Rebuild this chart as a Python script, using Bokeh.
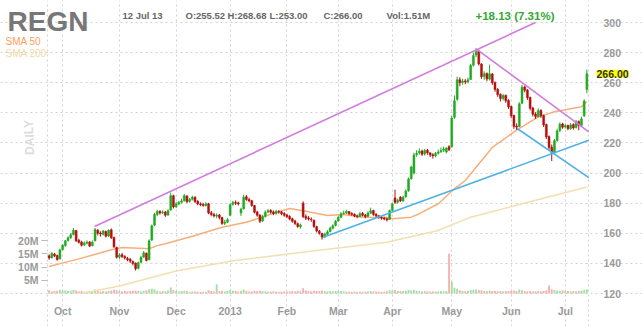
import pandas as pd
from bokeh.plotting import figure
from bokeh.models import Range1d, LinearAxis, FixedTicker, Label, ColumnDataSource, Grid
from bokeh.embed import file_html
from bokeh.resources import INLINE

# ---------------- data ----------------
holidays = ["2012-10-29", "2012-10-30", "2012-11-22", "2012-12-25", "2013-01-01",
            "2013-01-21", "2013-02-18", "2013-03-29", "2013-05-27", "2013-07-04"]
month_labels = ["Oct", "Nov", "Dec", "2013", "Feb", "Mar", "Apr", "May", "Jun", "Jul"]
price_ticks = [120, 140, 160, 180, 200, 220, 240, 260, 280, 300]
vol_ticks = [5000000, 10000000, 15000000, 20000000]
vol_tick_labels = ["5M", "10M", "15M", "20M"]

opens = [145.0, 143.8, 146.2, 145.2, 143.0, 149.2, 151.8, 155.2, 157.0, 159.2,
         161.8, 155.3, 154.2, 152.3, 153.4, 154.2, 151.8, 155.0, 162.0, 160.2,
         159.3, 161.2, 158.2, 162.3, 157.2, 150.5, 144.2, 145.8, 144.6, 143.2,
         142.8, 141.2, 140.2, 136.8, 140.8, 144.2, 146.8, 142.5, 155.5, 165.4,
         172.4, 174.6, 173.6, 174.2, 172.2, 175.4, 185.0, 177.6, 179.4, 180.6,
         181.6, 184.8, 181.2, 182.6, 184.0, 181.2, 179.4, 179.2, 178.4, 179.6,
         173.6, 172.4, 171.4, 172.2, 170.4, 166.6, 167.4, 172.0, 179.2, 180.4,
         180.2, 173.5, 176.2, 184.2, 182.4, 181.6, 178.4, 174.2, 172.2, 168.2,
         171.2, 174.2, 175.2, 174.2, 173.2, 174.4, 174.2, 173.2, 172.2, 171.2,
         169.6, 168.2, 166.4, 164.4, 180.0, 171.2, 170.2, 169.4, 168.6, 164.4,
         161.4, 159.8, 157.6, 159.4, 161.2, 163.4, 165.2, 168.2, 170.6, 173.2,
         173.6, 174.4, 173.2, 172.6, 171.6, 171.2, 173.2, 172.2, 171.2, 173.4,
         175.2, 172.6, 171.6, 170.6, 170.2, 169.6, 169.2, 175.2, 183.5, 180.6,
         184.0, 181.6, 184.2, 188.2, 196.2, 200.0, 212.2, 213.4, 214.6, 212.6,
         215.2, 213.4, 212.2, 211.4, 213.2, 214.2, 215.2, 214.0, 217.5, 217.5,
         237.0, 249.0, 262.0, 260.2, 261.2, 260.6, 262.2, 271.6, 278.4, 281.0,
         272.4, 264.2, 266.2, 262.4, 265.8, 260.2, 255.6, 252.2, 249.6, 251.6,
         248.2, 244.2, 238.2, 231.2, 231.0, 246.4, 257.2, 255.2, 250.2, 243.2,
         239.2, 237.6, 241.6, 238.2, 232.2, 224.2, 217.2, 213.6, 221.6, 228.2,
         232.6, 230.6, 231.6, 229.6, 232.2, 230.2, 234.2, 231.6, 238.0, 255.52]
highs = [146.0, 147.5, 147.0, 145.8, 149.8, 152.8, 155.6, 158.0, 160.2, 163.5,
         162.3, 156.4, 155.0, 154.6, 155.3, 154.8, 155.2, 163.5, 162.8, 161.3,
         162.2, 161.8, 162.6, 163.2, 157.8, 151.2, 146.8, 147.0, 145.5, 144.3,
         143.6, 142.0, 140.6, 141.2, 145.0, 148.2, 147.2, 156.0, 165.8, 173.6,
         175.6, 175.3, 175.2, 174.8, 175.9, 187.0, 185.6, 180.8, 181.6, 183.0,
         186.2, 185.2, 183.4, 185.0, 184.6, 182.0, 180.5, 180.2, 180.6, 180.2,
         174.8, 173.6, 173.2, 172.8, 171.0, 169.0, 170.2, 180.0, 181.6, 181.8,
         181.0, 177.0, 185.6, 185.4, 183.6, 182.2, 178.8, 175.0, 172.6, 172.2,
         175.2, 176.2, 176.0, 175.2, 175.6, 175.4, 174.8, 174.0, 173.0, 172.0,
         170.4, 169.0, 167.2, 166.4, 181.2, 172.6, 171.4, 170.6, 169.2, 165.0,
         162.2, 160.4, 160.4, 162.0, 164.4, 166.0, 168.8, 171.6, 174.0, 175.0,
         175.6, 174.8, 174.0, 173.2, 172.4, 174.0, 174.2, 172.8, 174.6, 177.0,
         175.6, 173.4, 172.2, 171.4, 171.0, 170.4, 175.8, 180.4, 189.0, 183.0,
         184.6, 185.0, 189.2, 197.0, 205.0, 213.5, 215.2, 216.4, 215.6, 216.0,
         216.0, 214.0, 213.2, 214.0, 215.6, 217.0, 217.6, 217.0, 218.5, 238.0,
         251.5, 264.0, 263.6, 262.6, 262.4, 263.4, 272.6, 280.0, 283.0, 282.0,
         273.0, 267.6, 266.8, 272.0, 266.4, 260.8, 256.4, 253.0, 252.6, 252.2,
         249.0, 244.8, 238.8, 233.0, 247.0, 258.6, 258.0, 255.8, 250.8, 244.0,
         240.4, 243.0, 242.4, 238.8, 232.8, 225.0, 219.0, 222.6, 229.4, 233.6,
         233.4, 232.8, 232.2, 233.2, 233.0, 235.2, 235.0, 237.4, 249.0, 268.68]
lows = [142.5, 143.2, 144.2, 141.8, 142.6, 148.5, 151.0, 154.4, 156.3, 158.6,
        154.2, 153.1, 151.2, 151.5, 152.6, 150.8, 151.3, 154.6, 158.5, 157.8,
        158.6, 157.2, 157.5, 156.2, 150.2, 143.2, 142.8, 143.6, 142.5, 141.4,
        140.3, 138.6, 135.2, 136.0, 140.2, 143.6, 141.3, 142.0, 154.8, 164.8,
        171.3, 172.4, 172.8, 170.9, 171.6, 175.0, 176.5, 176.8, 178.6, 179.8,
        181.0, 180.1, 180.3, 181.8, 180.2, 178.6, 178.0, 177.6, 177.8, 172.6,
        171.3, 170.5, 170.0, 169.2, 165.6, 165.4, 166.8, 171.5, 178.3, 178.8,
        178.5, 171.5, 175.8, 181.6, 180.6, 177.6, 173.2, 171.0, 166.8, 167.4,
        170.5, 173.4, 173.0, 172.0, 172.4, 173.0, 172.0, 171.0, 170.0, 168.6,
        167.0, 165.4, 163.6, 163.0, 170.2, 168.8, 168.4, 167.6, 163.6, 160.6,
        159.0, 155.8, 156.8, 158.6, 160.6, 162.6, 164.6, 167.6, 170.0, 172.4,
        172.8, 172.0, 171.6, 170.6, 170.0, 170.6, 171.2, 170.0, 170.8, 172.8,
        171.6, 170.6, 169.6, 169.0, 168.6, 167.8, 168.8, 174.6, 179.5, 179.6,
        180.8, 180.8, 183.6, 187.6, 195.6, 199.0, 210.8, 212.2, 211.4, 211.6,
        212.2, 210.6, 209.6, 210.4, 212.2, 213.4, 214.0, 213.0, 214.6, 216.8,
        236.0, 248.0, 257.6, 258.6, 259.0, 259.6, 261.8, 270.8, 277.0, 271.4,
        262.6, 262.0, 261.0, 261.6, 258.6, 254.0, 250.6, 247.6, 248.2, 246.6,
        242.6, 236.4, 229.4, 228.6, 230.4, 245.8, 253.6, 248.6, 241.6, 237.6,
        236.0, 236.8, 236.6, 230.6, 222.6, 215.4, 208.0, 212.8, 220.8, 227.2,
        229.4, 229.6, 228.4, 228.6, 228.8, 229.6, 228.4, 230.8, 237.2, 253.00]
closes = [143.5, 146.5, 145.0, 142.5, 149.0, 152.0, 155.0, 157.0, 159.0, 162.0,
          155.0, 154.0, 152.0, 153.5, 154.0, 151.5, 154.0, 162.5, 160.0, 159.5,
          161.5, 158.0, 162.0, 157.0, 151.0, 144.0, 145.5, 144.5, 143.5, 142.5,
          141.5, 140.0, 136.5, 140.5, 144.0, 147.0, 142.0, 155.0, 165.0, 172.5,
          174.5, 173.5, 174.0, 172.0, 175.0, 185.0, 177.5, 179.5, 180.5, 181.5,
          185.0, 181.0, 182.5, 184.0, 181.0, 179.5, 179.0, 178.5, 179.5, 173.5,
          172.5, 171.5, 172.0, 170.5, 166.5, 167.5, 169.0, 179.0, 180.5, 180.0,
          179.5, 176.0, 184.0, 182.5, 181.5, 178.5, 174.0, 172.0, 168.0, 171.0,
          174.0, 175.0, 174.0, 173.0, 174.5, 174.0, 173.0, 172.0, 171.0, 169.5,
          168.0, 166.5, 164.5, 165.5, 171.0, 170.0, 169.5, 169.0, 164.5, 161.5,
          160.0, 157.5, 159.5, 161.0, 163.5, 165.0, 168.0, 170.5, 173.0, 173.5,
          174.5, 173.0, 172.5, 171.5, 171.0, 173.0, 172.0, 171.0, 173.5, 175.0,
          172.5, 171.5, 170.5, 170.0, 169.5, 169.0, 175.0, 179.5, 180.5, 181.8,
          181.5, 184.0, 188.0, 196.0, 204.0, 212.0, 213.0, 214.5, 212.5, 215.0,
          213.5, 212.0, 211.5, 213.0, 214.0, 215.0, 216.0, 216.6, 215.5, 236.5,
          248.0, 262.0, 260.0, 261.0, 260.5, 262.0, 271.5, 278.0, 280.5, 272.5,
          264.0, 266.0, 262.5, 266.0, 260.0, 255.5, 252.0, 249.5, 251.5, 248.0,
          244.0, 238.0, 231.0, 230.5, 246.0, 257.0, 255.0, 250.0, 243.0, 239.0,
          237.5, 241.5, 238.0, 232.0, 224.0, 217.0, 213.5, 221.5, 228.0, 232.5,
          230.5, 231.5, 229.5, 232.0, 230.0, 234.0, 231.5, 236.0, 247.87, 266.00]
volumes_m = [1.2, 0.8, 0.9, 1.0, 1.3, 1.1, 1.2, 0.9, 1.0, 1.4,
             1.1, 0.8, 0.9, 0.7, 0.8, 0.9, 0.8, 1.5, 1.0, 0.8,
             0.9, 0.8, 0.9, 1.0, 1.4, 1.2, 0.9, 0.8, 0.9, 0.8,
             0.9, 1.0, 1.1, 0.9, 0.8, 1.0, 1.2, 1.6, 1.8, 1.5,
             1.0, 0.8, 0.9, 0.8, 1.1, 2.3, 1.3, 0.9, 0.8, 0.9,
             1.0, 0.9, 0.7, 0.8, 0.8, 0.7, 0.6, 0.7, 0.6, 1.2,
             0.9, 0.8, 3.5, 0.9, 1.0, 0.8, 0.9, 1.4, 1.0, 0.9,
             0.8, 1.0, 1.5, 1.0, 0.8, 0.8, 0.9, 0.9, 1.1, 0.9,
             0.8, 0.7, 0.7, 0.8, 0.7, 0.6, 0.7, 0.8, 0.7, 0.8,
             0.9, 0.8, 1.0, 0.9, 2.0, 1.2, 0.9, 0.8, 1.0, 1.0,
             0.9, 1.1, 0.9, 0.8, 0.9, 0.8, 0.9, 1.0, 0.9, 0.8,
             0.7, 0.7, 0.6, 0.7, 0.6, 0.7, 0.6, 0.7, 0.8, 0.9,
             0.8, 0.7, 0.7, 0.6, 0.7, 0.8, 1.2, 1.1, 1.3, 1.0,
             0.9, 1.0, 1.1, 1.3, 1.2, 1.4, 1.0, 0.9, 0.8, 0.9,
             0.8, 0.7, 0.8, 0.7, 0.8, 0.9, 0.8, 0.9, 15.0, 4.5,
             2.2, 1.8, 1.2, 1.0, 0.9, 1.0, 1.3, 1.4, 1.5, 1.3,
             1.2, 1.0, 0.9, 1.1, 1.0, 0.9, 0.8, 0.9, 0.8, 0.9,
             0.9, 1.0, 1.1, 0.9, 1.5, 1.2, 0.9, 0.8, 0.9, 0.8,
             0.8, 0.9, 0.8, 1.0, 1.2, 3.0, 1.6, 1.3, 1.1, 1.0,
             1.2, 1.0, 0.9, 0.8, 0.9, 0.8, 1.0, 1.1, 1.4, 1.51]

sma50_idx = [0, 11, 23, 27, 33, 37, 40, 43, 54, 64, 73, 86, 89, 94, 103, 109, 116, 125, 127,
             134, 137, 144, 150, 154, 164, 173, 181, 187, 197, 199]
sma50_val = [138, 143, 149, 150.5, 150, 149.7, 151.8, 153, 158.5, 164, 167.3, 175, 176.4, 175,
             171.8, 172.5, 170.7, 170.5, 169.6, 170.7, 173, 179.6, 189.6, 195, 217, 228.5, 237.3,
             240.7, 244, 247.5]
sma200_idx = [12, 26, 47, 68, 99, 125, 144, 156, 175, 199]
sma200_val = [120, 125, 135, 141.8, 148.5, 154, 161.8, 170.7, 179.6, 190.7]

# trend lines (trading-day index, price)
purple_up = ([16.8, 180.0], [164.5, 300.0])
purple_down = ([158.4, 199.7], [282.0, 227.3])
blue_up = ([101.4, 199.7], [157.3, 221.8])
blue_down = ([173.2, 199.7], [229.6, 197.0])

# ---------------- derived ----------------
dates = [d for d in pd.bdate_range("2012-09-24", "2013-07-12") if d.strftime("%Y-%m-%d") not in holidays]
idx = list(range(len(dates)))
month_idx = [i for i in idx[1:] if dates[i].month != dates[i - 1].month]

UP, DOWN = "#23a823", "#b3100f"
colors = [UP if c >= o else DOWN for o, c in zip(opens, closes)]
vcolors = ["#a6dca6" if c >= o else "#f6b0b0" for o, c in zip(opens, closes)]
src = ColumnDataSource(dict(
    x=idx, o=opens, h=highs, l=lows, c=closes,
    top=[max(o, c) for o, c in zip(opens, closes)],
    bot=[min(o, c) for o, c in zip(opens, closes)],
    col=colors, vcol=vcolors, vol=[v * 1e6 for v in volumes_m]))

# layout: the frame covers the whole canvas; the price area sits inside it
W, H = 642, 326
PL, PR, PT, PB = 47, 588, 22, 293          # price-area edges in pixels
XS, XE = -0.6, 199.6                        # day-index span of price area
YS, YE = 120, 300                           # price span of price area
kx = (XE - XS) / (PR - PL)
ky = (YE - YS) / (PB - PT)
VOL_PER_PX = 20e6 / 53.0                    # volume scale: 20M spans 53 px


def X(px):
    return XS + (px - PL) * kx


def Y(py):
    return YE - (py - PT) * ky


p = figure(width=W, height=H, output_backend="svg", toolbar_location=None,
           x_axis_type=None, y_axis_type=None,
           x_range=Range1d(X(0), X(W)), y_range=Range1d(Y(H), Y(0)),
           min_border=0, background_fill_color="white", border_fill_color="white",
           outline_line_color=None)
p.extra_y_ranges = {"vol": Range1d(-(H - PB) * VOL_PER_PX, PB * VOL_PER_PX)}

FONT = "Liberation Sans"
AX_COL = "#9a9a9a"

# grids (dashed), limited to the price area; outer lines act as the frame
gx = Grid(dimension=0, ticker=FixedTicker(ticks=[XS] + month_idx + [XE]), bounds=(YS, YE),
          grid_line_color="#d2d2d2", grid_line_dash="2 3")
gy = Grid(dimension=1, ticker=FixedTicker(ticks=price_ticks), bounds=(XS, XE),
          grid_line_color="#d2d2d2", grid_line_dash="2 3")
p.add_layout(gx)
p.add_layout(gy)


def style(ax, size="10.5px"):
    ax.axis_line_color = None
    ax.minor_tick_line_color = None
    ax.major_label_text_font = FONT
    ax.major_label_text_font_style = "bold"
    ax.major_label_text_font_size = size
    ax.major_label_text_color = AX_COL


xax = LinearAxis(ticker=FixedTicker(ticks=month_idx), fixed_location=YS,
                 major_label_overrides={int(i): s for i, s in zip(month_idx, month_labels)})
style(xax)
xax.major_tick_line_color = None
xax.major_label_standoff = 5
p.add_layout(xax, "below")

yax = LinearAxis(ticker=FixedTicker(ticks=price_ticks), fixed_location=XE)
style(yax)
yax.major_tick_line_color = None
yax.major_label_standoff = 9
p.add_layout(yax, "right")

vax = LinearAxis(y_range_name="vol", ticker=FixedTicker(ticks=vol_ticks), fixed_location=XS,
                 major_label_overrides={t: s for t, s in zip(vol_ticks, vol_tick_labels)})
style(vax)
vax.major_tick_line_color = "#bbbbbb"
vax.major_tick_out = 6
vax.major_tick_in = 0
vax.major_label_standoff = 3
p.add_layout(vax, "left")

# volume
p.vbar(x="x", top="vol", bottom=0, width=0.7, fill_color="vcol", line_color=None,
       y_range_name="vol", source=src)

# moving averages
p.line(sma200_idx, sma200_val, line_color="#f3dfb0", line_width=1.5)
p.line(sma50_idx, sma50_val, line_color="#f8ae7a", line_width=1.5)

# candles
p.segment(x0="x", y0="l", x1="x", y1="h", line_color="col", line_width=1, source=src)
p.vbar(x="x", top="top", bottom="bot", width=0.72, fill_color="col", line_color="col",
       line_width=0.5, source=src)

# trend lines
for xs, ys in (purple_up, purple_down):
    p.line(xs, ys, line_color="#d27be0", line_width=1.6)
for xs, ys in (blue_up, blue_down):
    p.line(xs, ys, line_color="#4fb2e6", line_width=1.6)


# texts
def lab(text, px, y, size, color, style="bold", baseline="middle", align="left", angle=0, bg=None):
    kw = {}
    if bg is not None:
        kw["background_fill_color"] = bg
    p.add_layout(Label(x=X(px), y=y, text=text, text_font=FONT, text_font_size=size,
                       text_color=color, text_font_style=style, text_baseline=baseline,
                       text_align=align, angle=angle, **kw))


lab("REGN", 7, Y(21), "28px", "#777777")
lab("SMA 50", 5, Y(41), "10px", "#ff9d5c", style="normal")
lab("SMA 200", 5, Y(53), "10px", "#f2d7a6", style="normal")
lab("12 Jul 13", 122, Y(15), "9.5px", "#666666")
lab("O:255.52", 185, Y(15), "9.5px", "#666666")
lab("H:268.68", 227, Y(15), "9.5px", "#666666")
lab("L:253.00", 269, Y(15), "9.5px", "#666666")
lab("C:266.00", 323, Y(15), "9.5px", "#666666")
lab("Vol:1.51M", 386, Y(15), "9.5px", "#666666")
lab("+18.13 (7.31%)", 475, Y(15), "11.5px", "#33a833")
lab("DAILY", 29, Y(137), "12px", "#dddddd", align="center", angle=1.5708)
lab("266.00", 596, closes[-1], "10.5px", "#333333", bg="#ffff00")

open("out.html", "w").write(file_html(p, INLINE))
